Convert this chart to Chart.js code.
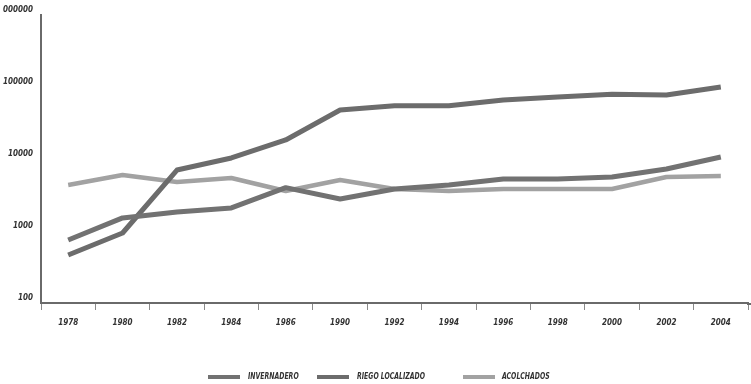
<!DOCTYPE html>
<html>
<head>
<meta charset="utf-8">
<script src="https://cdn.jsdelivr.net/npm/chart.js@4/dist/chart.umd.min.js"></script>
<style>
  html, body { margin: 0; padding: 0; background: #fff; }
  #wrap { position: relative; width: 751px; height: 384px; }
  #chart { display: block; }
  .lg-swatch { position: absolute; width: 32px; height: 4px; }
  .lg-text {
    position: absolute; font: italic bold 8px "DejaVu Sans Condensed", "DejaVu Sans", sans-serif;
    color: #333; white-space: nowrap; transform-origin: left center; transform: scaleX(0.86);
    line-height: 10px;
  }
</style>
</head>
<body>
<div id="wrap">
  <canvas id="chart" width="751" height="384"></canvas>
</div>
<script>
// Years on the horizontal axis
const years = ['1978', '1980', '1982', '1984', '1986', '1990', '1992', '1994', '1996', '1998', '2000', '2002', '2004'];

// Surface per technique (log scale)
const invernadero = [750, 1520, 1840, 2090, 4000, 2780, 3830, 4350, 5280, 5280, 5620, 7260, 10660];
const riegoLocalizado = [464, 938, 7030, 10330, 18370, 47900, 55000, 55000, 65900, 72600, 79200, 77400, 100000];
const acolchados = [4350, 6000, 4800, 5450, 3600, 5100, 3830, 3590, 3830, 3830, 3830, 5620, 5800];

// Labels shown on the vertical axis
const yTickValues = [100, 1000, 10000, 100000, 1000000];
const yTickLabels = ['100', '1000', '10000', '100000', '000000'];

const seriesNames = ['INVERNADERO', 'RIEGO LOCALIZADO', 'ACOLCHADOS'];
const seriesColors = ['#727272', '#6c6c6c', '#a2a2a2'];
const legendSwatchX = [208, 317, 463];
const legendTextX = [248, 357, 502];

const FONT = '"DejaVu Sans Condensed", "DejaVu Sans", sans-serif';

// Carries the horizontal axis line through to the right edge of the canvas
const axisRunout = {
  id: 'axisRunout',
  afterDraw(chart) {
    const { ctx, chartArea } = chart;
    ctx.save();
    ctx.strokeStyle = '#6a6a6a';
    ctx.lineWidth = 2;
    ctx.beginPath();
    ctx.moveTo(chartArea.right - 1, chartArea.bottom + 1);
    ctx.lineTo(chart.width, chartArea.bottom + 1);
    ctx.stroke();
    ctx.restore();
  }
};

const ctx = document.getElementById('chart').getContext('2d');
new Chart(ctx, {
  type: 'line',
  data: {
    labels: years,
    datasets: [
      { label: seriesNames[0], data: invernadero, borderColor: seriesColors[0], borderWidth: 5 },
      { label: seriesNames[1], data: riegoLocalizado, borderColor: seriesColors[1], borderWidth: 5 },
      { label: seriesNames[2], data: acolchados, borderColor: seriesColors[2], borderWidth: 4.5 }
    ].map(d => Object.assign(d, { pointRadius: 0, tension: 0, fill: false, borderJoinStyle: 'round' }))
  },
  plugins: [axisRunout],
  options: {
    responsive: false,
    animation: false,
    layout: { padding: { top: 15, right: 3, left: 0, bottom: 0 } },
    plugins: { legend: { display: false }, tooltip: { enabled: false } },
    scales: {
      x: {
        type: 'category',
        offset: true,
        grid: { offset: true, drawOnChartArea: false, drawTicks: true, tickLength: 7, color: '#8a8a8a', lineWidth: 1 },
        border: { display: true, color: '#6a6a6a', width: 2 },
        ticks: { font: { family: FONT, size: 8, style: 'italic', weight: 'bold' }, color: '#333', padding: 8, maxRotation: 0, autoSkip: false },
        afterFit: s => { s.height = 81; }
      },
      y: {
        type: 'logarithmic',
        min: 100,
        max: 1000000,
        afterBuildTicks: s => { s.ticks = yTickValues.map(v => ({ value: v })); },
        grid: { display: false, drawTicks: false },
        border: { display: true, color: '#6a6a6a', width: 2 },
        ticks: {
          font: { family: FONT, size: 8, style: 'italic', weight: 'bold' },
          color: '#333',
          padding: 8,
          labelOffset: -5,
          callback: v => { const i = yTickValues.indexOf(v); return i >= 0 ? yTickLabels[i] : ''; }
        },
        afterFit: s => { s.width = 41; }
      }
    }
  }
});

// Legend under the plot
const wrap = document.getElementById('wrap');
seriesNames.forEach((name, i) => {
  const sw = document.createElement('div');
  sw.className = 'lg-swatch';
  sw.style.left = legendSwatchX[i] + 'px';
  sw.style.top = '375px';
  sw.style.background = seriesColors[i];
  wrap.appendChild(sw);
  const tx = document.createElement('span');
  tx.className = 'lg-text';
  tx.style.left = legendTextX[i] + 'px';
  tx.style.top = '372px';
  tx.textContent = name;
  wrap.appendChild(tx);
});
</script>
</body>
</html>
